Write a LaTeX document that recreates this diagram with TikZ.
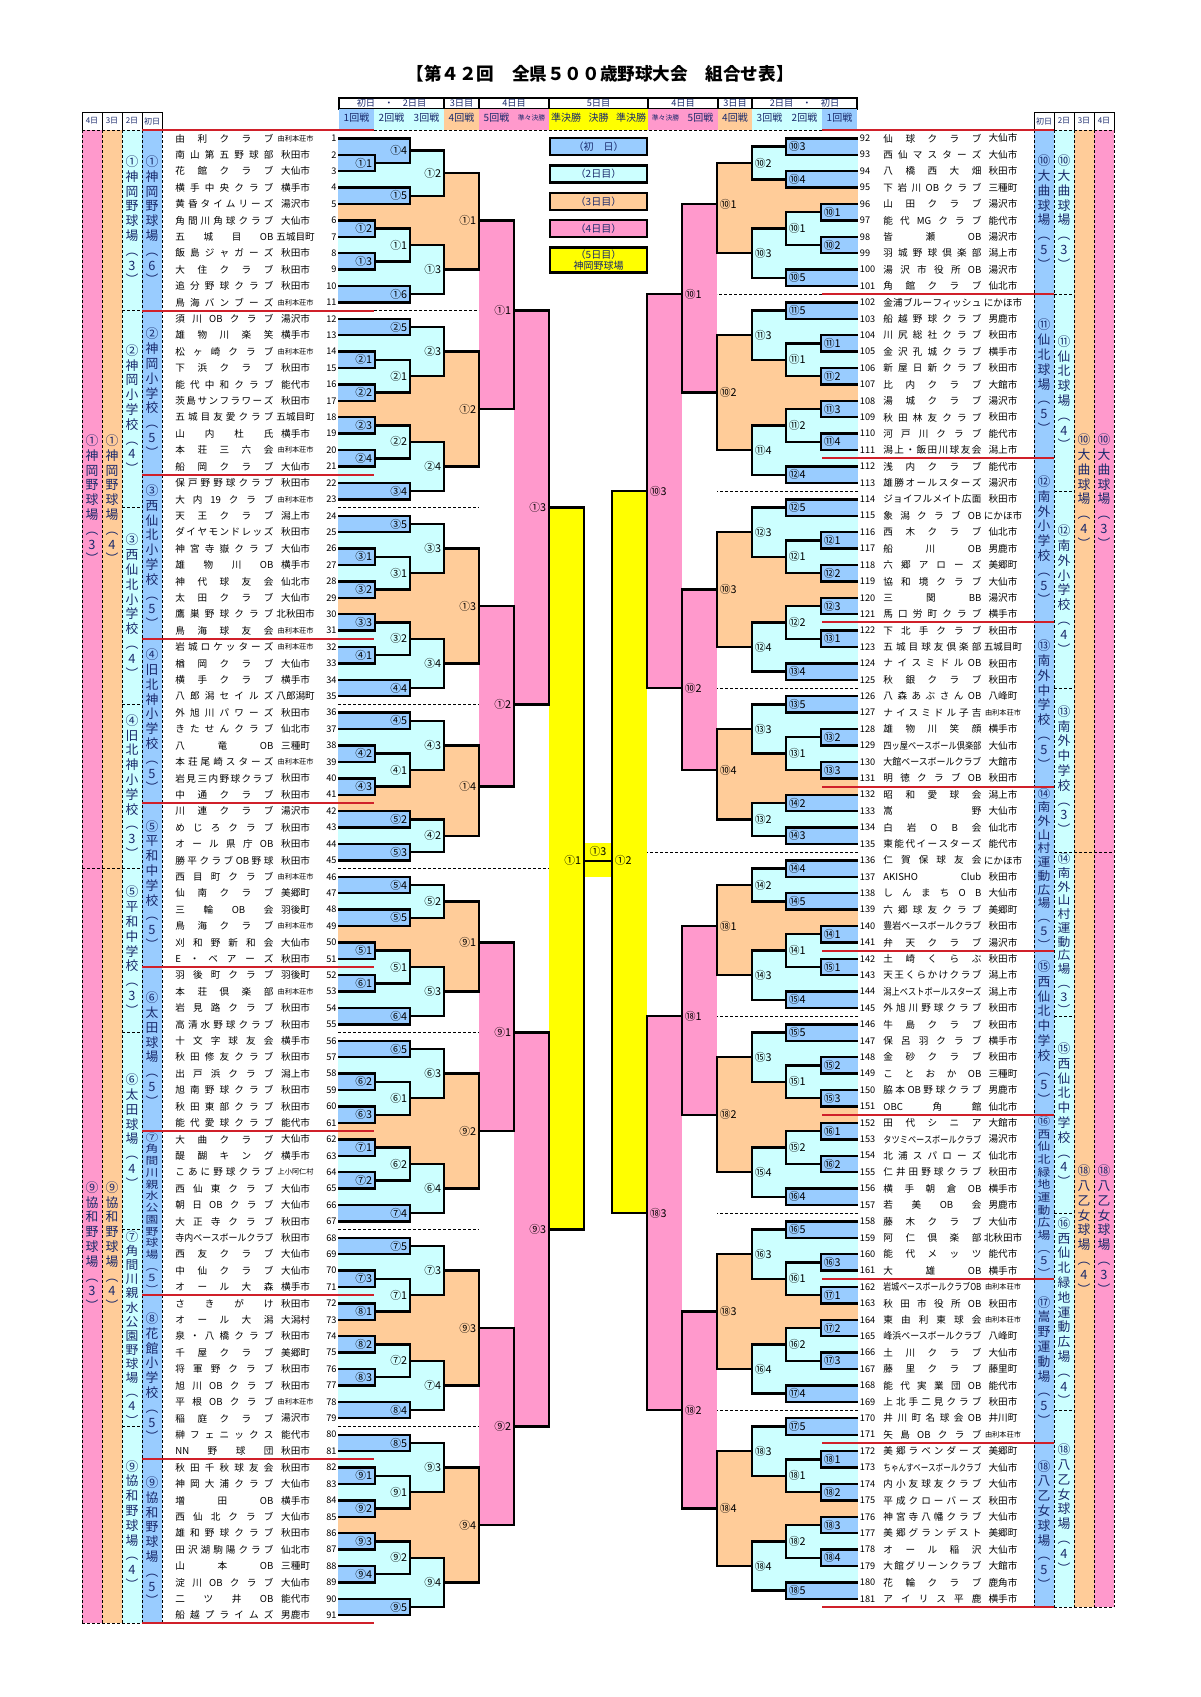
\documentclass[tikz,border=0pt]{standalone}
\usepackage{fontspec}
\setmainfont{Noto Sans CJK JP}
\usepackage{graphicx}
\usetikzlibrary{positioning}
\definecolor{dayone}{HTML}{99CCFF}
\definecolor{daytwo}{HTML}{CCFFFF}
\definecolor{daythree}{HTML}{FFCC99}
\definecolor{dayfour}{HTML}{FF99CC}
\definecolor{dayfive}{HTML}{FFFF00}
\definecolor{blockred}{HTML}{D0202A}
\definecolor{headink}{HTML}{1A2A6C}
\pgfdeclarelayer{fills}
\pgfsetlayers{fills,main}
\pgfmathdeclarefunction{ry}{1}{\pgfmathparse{138.3+(#1-1)*16.41}}

\def\chrendmark{\chrend}
\def\forchars#1#2{\def\chrdo{#1}\chrloop#2\chrend}
\def\chrloop#1{\def\chrarg{#1}\ifx\chrarg\chrendmark\else\chrdo{#1}\expandafter\chrloop\fi}

\newlength\nmw \setlength\nmw{49pt}
\newbox\nmbx
\newif\ifhsfirst
\def\hsch#1{\ifhsfirst\hsfirstfalse\else\hfill\fi#1}
\newcommand\nm[1]{\setbox\nmbx\hbox{#1}%
  \ifdim\wd\nmbx>\nmw\edef\nmht{\the\ht\nmbx}\resizebox{\nmw}{\nmht}{\copy\nmbx}%
  \else\hbox to\nmw{\hsfirsttrue\forchars\hsch{#1}}\fi}
\newcommand\sct[1]{{\fontsize{3.6pt}{4pt}\selectfont#1}}

\newbox\vtbx
\def\vtch#1{\hbox to 8pt{\hss#1\hss}}
\newcommand\vt[2]{\setbox\vtbx\vbox{\baselineskip=7.4pt\lineskiplimit=-20pt\lineskip=0pt\forchars\vtch{#2}}%
  \ifdim\dimexpr\ht\vtbx+\dp\vtbx\relax>#1\relax\resizebox*{\wd\vtbx}{#1}{\copy\vtbx}\else\copy\vtbx\fi}

\def\Lo{338}\def\La{375}\def\Lb{410}\def\Lc{444}\def\Ld{479}\def\Le{514}\def\Lf{549}\def\Lg{584}
\def\lside{east}
\newcount\gno
\newcommand\gm[9]{%
  \pgfmathsetmacro\gya{ry(#5)}\pgfmathsetmacro\gyb{ry(#7)}\pgfmathsetmacro\gyo{ry(#9)}%
  \begin{pgfonlayer}{fills}\fill[#1] (#2,\gya) rectangle (#3,\gyb);\end{pgfonlayer}%
  \draw[bline] (#4,\gya) -| (#3,\gyb) -- (#6,\gyb);%
  \global\advance\gno by 1
  \node[glab,anchor=\lside] (g\the\gno) at (#3-2.5,\gyo) {#8};}
\newcommand\bA[2]{\gm{dayone}{\Lo}{\La}{\Lo}{#2}{\Lo}{#2+1}{#1}{#2+0.5}}
\newcommand\bB[2]{\gm{dayone}{\Lo}{\Lb}{\Lo}{#2}{\Lo}{#2+1}{#1}{#2+0.5}}
\newcommand\cB[2]{\gm{daytwo}{\Lo}{\Lb}{\La}{#2}{\La}{#2+2}{#1}{#2+1}}
\newcommand\cC[3]{\gm{daytwo}{\Lo}{\Lc}{\Lb}{#2}{\Lb}{#3}{#1}{(#2+#3)/2}}
\newcommand\oD[4]{\gm{daythree}{\Lo}{\Ld}{\Lc}{#2}{\Lc}{#3}{#1}{#4}}
\newcommand\pE[4]{\gm{dayfour}{\Ld}{\Le}{\Ld}{#2}{\Ld}{#3}{#1}{#4}}
\newcommand\pF[4]{\gm{dayfour}{\Le}{\Lf}{\Le}{#2}{\Le}{#3}{#1}{#4}}
\newcommand\yG[4]{\gm{dayfive}{\Lf}{\Lg}{\Lf}{#2}{\Lf}{#3}{#1}{#4}}

\newcommand\teamL[3]{\pgfmathsetmacro\tyy{ry(#1)}%
  \node[tnum,anchor=east] (n#1) at (337,\tyy) {#1};%
  \node[tnm] (m#1) at (175,\tyy) {\nm{#2}};%
  \node[tct] (c#1) at (295.6,\tyy) {#3};}
\newcommand\teamR[3]{\pgfmathsetmacro\tyy{ry(#1-91)}%
  \node[tnum,anchor=west] (n#1) at (859.5,\tyy) {#1};%
  \node[tnm] (m#1) at (883,\tyy) {\nm{#2}};%
  \node[tct] (c#1) at (1003,\tyy) {#3};}

\newcommand\vcell[6]{%
  \pgfmathsetmacro\vya{ry(#2)}\pgfmathsetmacro\vyb{ry(#3)}\pgfmathsetmacro\vmaxh{(\vyb-\vya-3)/2}%
  \fill[#4] (#1,\vya) rectangle (#1+20,\vyb);%
  \node[vtx] (#6) at (#1+10,{(\vya+\vyb)/2}) {\vt{\vmaxh pt}{#5}};}
\newcommand\hcellbox[4]{\draw[hcell] (#1,98) rectangle (#2,109);
  \node[htxt] (#4) at ({(#1+#2)/2},103.5) {#3};}

\begin{document}
\begin{tikzpicture}[x=0.5pt,y=-0.5pt,
  bline/.style={line width=1.2pt,line join=miter},
  glab/.style={inner sep=0pt,font=\fontsize{5.4pt}{6pt}\selectfont},
  tnm/.style={inner sep=0pt,anchor=west,font=\fontsize{4.8pt}{5pt}\selectfont},
  tnum/.style={inner sep=0pt,font=\fontsize{4.6pt}{5pt}\selectfont},
  tct/.style={inner sep=0pt,font=\fontsize{4.8pt}{5pt}\selectfont},
  redline/.style={draw=blockred,line width=1pt},
  dashline/.style={line width=0.45pt,dash pattern=on 1.6pt off 0.9pt},
  hcell/.style={draw,line width=1pt,fill=white},
  htxt/.style={inner sep=0pt,text=headink,font=\fontsize{4.6pt}{5pt}\selectfont},
  rtxt/.style={inner sep=0pt,text=headink,font=\fontsize{5pt}{5.5pt}\selectfont},
  stxt/.style={inner sep=0pt,text=headink,font=\fontsize{3.4pt}{4pt}\selectfont},
  vtx/.style={inner sep=0pt,text=headink,font=\fontsize{6.4pt}{7pt}\selectfont},
  vhead/.style={draw,line width=0.5pt,fill=white,minimum width=10pt,minimum height=9pt,inner sep=0pt,text=headink,font=\fontsize{4pt}{4.5pt}\selectfont},
  legbox/.style={draw,line width=1.2pt,minimum width=48.5pt,minimum height=8.5pt,inner sep=0pt,align=center,text=headink,font=\fontsize{5pt}{5.6pt}\selectfont},
  title/.style={inner sep=0pt,font=\bfseries\fontsize{8.8pt}{10pt}\selectfont}]
\useasboundingbox (0,0) rectangle (1200,1697);
\begin{pgfonlayer}{fills}\fill[white] (0,0) rectangle (1200,1697);\end{pgfonlayer}

\node[title] (ttl) at (600,74) {【第４２回　全県５００歳野球大会　組合せ表】};

\hcellbox{339}{444}{初日　・　2日目}{h1}
\hcellbox{444}{479}{3日目}{h2}
\hcellbox{479}{549}{4日目}{h3}
\hcellbox{549}{648}{5日目}{h4}
\hcellbox{648}{718}{4日目}{h5}
\hcellbox{718}{752}{3日目}{h6}
\hcellbox{752}{857}{2日目　・　初日}{h7}
\fill[dayone] (339,109) rectangle (374,130);
\fill[daytwo] (374,109) rectangle (444,130);
\fill[daythree] (444,109) rectangle (479,130);
\fill[dayfour] (479,109) rectangle (549,130);
\fill[dayfive] (549,109) rectangle (648,130);
\fill[dayfour] (648,109) rectangle (718,130);
\fill[daythree] (718,109) rectangle (752,130);
\fill[daytwo] (752,109) rectangle (822,130);
\fill[dayone] (822,109) rectangle (857,130);
\node[rtxt] (r1) at (356.5,118) {1回戦};
\node[rtxt] (r2) at (391.5,118) {2回戦};
\node[rtxt] (r3) at (426.5,118) {3回戦};
\node[rtxt] (r4) at (461.5,118) {4回戦};
\node[rtxt] (r5) at (496.5,118) {5回戦};
\node[stxt] (r6) at (531.5,118) {準々決勝};
\node[rtxt] (r7) at (566,118) {準決勝};
\node[rtxt] (r8) at (598.5,118) {決勝};
\node[rtxt] (r9) at (631,118) {準決勝};
\node[stxt] (r10) at (665.5,118) {準々決勝};
\node[rtxt] (r11) at (700.5,118) {5回戦};
\node[rtxt] (r12) at (735,118) {4回戦};
\node[rtxt] (r13) at (769.5,118) {3回戦};
\node[rtxt] (r14) at (804.5,118) {2回戦};
\node[rtxt] (r15) at (839.5,118) {1回戦};

\node[legbox,fill=dayone] (lg1) at (598.5,146.5) {（初　日）};
\node[legbox,fill=daytwo,below=4pt of lg1] (lg2) {（2日目）};
\node[legbox,fill=daythree,below=4pt of lg2] (lg3) {（3日目）};
\node[legbox,fill=dayfour,below=4pt of lg3] (lg4) {（4日目）};
\node[legbox,fill=dayfive,minimum height=12.5pt,below=4pt of lg4] (lg5) {（5日目）\\神岡野球場};

\node[vhead] (vl4) at (92,121) {4日};
\node[vhead] (vl3) at (112,121) {3日};
\node[vhead] (vl2) at (132,121) {2日};
\node[vhead] (vl1) at (152,121) {初日};
\node[vhead] (vr1) at (1044,121) {初日};
\node[vhead] (vr2) at (1064,121) {2日};
\node[vhead] (vr3) at (1084,121) {3日};
\node[vhead] (vr4) at (1104,121) {4日};

\vcell{142}{0.5}{11.5}{dayone}{①神岡野球場︵6︶}{la1}
\vcell{142}{11.5}{21.5}{dayone}{②神岡小学校︵5︶}{la2}
\vcell{142}{21.5}{31.5}{dayone}{③西仙北小学校︵5︶}{la3}
\vcell{142}{31.5}{41.5}{dayone}{④旧北神小学校︵5︶}{la4}
\vcell{142}{41.5}{51.5}{dayone}{⑤平和中学校︵5︶}{la5}
\vcell{142}{51.5}{61.5}{dayone}{⑥太田球場︵5︶}{la6}
\vcell{142}{61.5}{71.5}{dayone}{⑦角間川親水公園野球場︵5︶}{la7}
\vcell{142}{71.5}{81.5}{dayone}{⑧花館小学校︵5︶}{la8}
\vcell{142}{81.5}{91.5}{dayone}{⑨協和野球場︵5︶}{la9}
\vcell{122}{0.5}{11.5}{daytwo}{①神岡野球場︵3︶}{lb1}
\vcell{122}{11.5}{23.5}{daytwo}{②神岡小学校︵4︶}{lb2}
\vcell{122}{23.5}{35.5}{daytwo}{③西仙北小学校︵4︶}{lb3}
\vcell{122}{35.5}{45.5}{daytwo}{④旧北神小学校︵3︶}{lb4}
\vcell{122}{45.5}{55.5}{daytwo}{⑤平和中学校︵3︶}{lb5}
\vcell{122}{55.5}{67.5}{daytwo}{⑥太田球場︵4︶}{lb6}
\vcell{122}{67.5}{79.5}{daytwo}{⑦角間川親水公園野球場︵4︶}{lb7}
\vcell{122}{79.5}{91.5}{daytwo}{⑨協和野球場︵4︶}{lb9}
\vcell{102}{0.5}{45.5}{daythree}{①神岡野球場︵4︶}{lc1}
\vcell{102}{45.5}{91.5}{daythree}{⑨協和野球場︵4︶}{lc9}
\vcell{82}{0.5}{45.5}{dayfour}{①神岡野球場︵3︶}{ld1}
\vcell{82}{45.5}{91.5}{dayfour}{⑨協和野球場︵3︶}{ld9}

\vcell{1034}{0.5}{10.5}{dayone}{⑩大曲球場︵5︶}{ra10}
\vcell{1034}{10.5}{20.5}{dayone}{⑪仙北球場︵5︶}{ra11}
\vcell{1034}{20.5}{30.5}{dayone}{⑫南外小学校︵5︶}{ra12}
\vcell{1034}{30.5}{40.5}{dayone}{⑬南外中学校︵5︶}{ra13}
\vcell{1034}{40.5}{50.5}{dayone}{⑭南外山村運動広場︵5︶}{ra14}
\vcell{1034}{50.5}{60.5}{dayone}{⑮西仙北中学校︵5︶}{ra15}
\vcell{1034}{60.5}{70.5}{dayone}{⑯西仙北緑地運動広場︵5︶}{ra16}
\vcell{1034}{70.5}{80.5}{dayone}{⑰嵩野運動場︵5︶}{ra17}
\vcell{1034}{80.5}{90.5}{dayone}{⑱八乙女球場︵5︶}{ra18}
\vcell{1054}{0.5}{10.5}{daytwo}{⑩大曲球場︵3︶}{rb10}
\vcell{1054}{10.5}{22.5}{daytwo}{⑪仙北球場︵4︶}{rb11}
\vcell{1054}{22.5}{34.5}{daytwo}{⑫南外小学校︵4︶}{rb12}
\vcell{1054}{34.5}{44.5}{daytwo}{⑬南外中学校︵3︶}{rb13}
\vcell{1054}{44.5}{54.5}{daytwo}{⑭南外山村運動広場︵3︶}{rb14}
\vcell{1054}{54.5}{66.5}{daytwo}{⑮西仙北中学校︵4︶}{rb15}
\vcell{1054}{66.5}{78.5}{daytwo}{⑯西仙北緑地運動広場︵4︶}{rb16}
\vcell{1054}{78.5}{90.5}{daytwo}{⑱八乙女球場︵4︶}{rb18}
\vcell{1074}{0.5}{44.5}{daythree}{⑩大曲球場︵4︶}{rc10}
\vcell{1074}{44.5}{90.5}{daythree}{⑱八乙女球場︵4︶}{rc18}
\vcell{1094}{0.5}{44.5}{dayfour}{⑩大曲球場︵3︶}{rd10}
\vcell{1094}{44.5}{90.5}{dayfour}{⑱八乙女球場︵3︶}{rd18}

\foreach \x in {82,102,122,142,162} \draw[dashline] (\x,130) -- (\x,{ry(91.5)});
\foreach \x in {1034,1054,1074,1094,1114} \draw[dashline] (\x,130) -- (\x,{ry(90.5)});
\foreach \r in {11.5,23.5,35.5,45.5,55.5,67.5,79.5} \draw[dashline] (122,{ry(\r)}) -- (142,{ry(\r)});
\foreach \r in {10.5,22.5,34.5,44.5,54.5,66.5,78.5} \draw[dashline] (1054,{ry(\r)}) -- (1074,{ry(\r)});
\draw[dashline] (82,{ry(45.5)}) -- (122,{ry(45.5)});
\draw[dashline] (1074,{ry(44.5)}) -- (1114,{ry(44.5)});
\draw[dashline] (82,{ry(91.5)}) -- (142,{ry(91.5)});
\draw[dashline] (1054,{ry(90.5)}) -- (1114,{ry(90.5)});
\draw[dashline] (82,130) -- (142,130);
\draw[dashline] (1054,130) -- (1114,130);
\draw[dashline] (374,{ry(0.5)}) -- (822,{ry(0.5)});

\foreach \r in {0.5,11.5,21.5,31.5,41.5,51.5,61.5,71.5,81.5,91.5} \draw[redline] (142,{ry(\r)}) -- (374,{ry(\r)});
\draw[dashline] (374,{ry(11.5)}) -- (479,{ry(11.5)});
\foreach \r in {23.5,35.5,55.5,67.5,79.5} \draw[dashline] (338,{ry(\r)}) -- (479,{ry(\r)});
\draw[dashline] (338,{ry(45.5)}) -- (549,{ry(45.5)});

\yG{①1}{23.5}{67.5}{45.03}
\pF{①3}{11.5}{35.5}{23.5}
\pF{⑨3}{55.5}{79.5}{67.5}
\pE{①1}{6}{17.5}{11.5}
\pE{①2}{29.5}{40.5}{35.5}
\pE{⑨1}{50}{61.5}{55.5}
\pE{⑨2}{73.5}{85.5}{79.5}
\oD{①1}{3.125}{9}{6}
\oD{①2}{14}{21}{17.5}
\oD{①3}{26}{33}{29.5}
\oD{①4}{38}{43.5}{40.5}
\oD{⑨1}{47.5}{53}{50}
\oD{⑨2}{58}{65}{61.5}
\oD{⑨3}{70}{77}{73.5}
\oD{⑨4}{82}{89}{85.5}
\cC{①2}{1.75}{4.5}
\cC{①3}{7.5}{10.5}
\cC{②3}{12.5}{15.5}
\cC{②4}{19.5}{22.5}
\cC{③3}{24.5}{27.5}
\cC{③4}{31.5}{34.5}
\cC{④3}{36.5}{39.5}
\cC{④2}{42.5}{44.5}
\cC{⑤2}{46.5}{48.5}
\cC{⑤3}{51.5}{54.5}
\cC{⑥3}{56.5}{59.5}
\cC{⑥4}{63.5}{66.5}
\cC{⑦3}{68.5}{71.5}
\cC{⑦4}{75.5}{78.5}
\cC{⑨3}{80.5}{83.5}
\cC{⑨4}{87.5}{90.5}
\cB{①1}{6.5} \cB{②1}{14.5} \cB{②2}{18.5} \cB{③1}{26.5} \cB{③2}{30.5} \cB{④1}{38.5} \cB{⑤1}{50.5}
\cB{⑥1}{58.5} \cB{⑥2}{62.5} \cB{⑦1}{70.5} \cB{⑦2}{74.5} \cB{⑨1}{82.5} \cB{⑨2}{86.5}
\gm{dayone}{\Lo}{\Lb}{\Lo}{1}{\La}{2.5}{①4}{1.75}
\bB{①5}{4} \bB{①6}{10} \bB{②5}{12} \bB{③4}{22} \bB{③5}{24} \bB{④4}{34} \bB{④5}{36} \bB{⑤2}{42} \bB{⑤3}{44} \bB{⑤4}{46}
\bB{⑤5}{48} \bB{⑥4}{54} \bB{⑥5}{56} \bB{⑦4}{66} \bB{⑦5}{68} \bB{⑧4}{78} \bB{⑧5}{80} \bB{⑨5}{90}
\bA{①1}{2} \bA{①2}{6} \bA{①3}{8} \bA{②1}{14} \bA{②2}{16} \bA{②3}{18} \bA{②4}{20} \bA{③1}{26} \bA{③2}{28}
\bA{③3}{30} \bA{④1}{32} \bA{④2}{38} \bA{④3}{40} \bA{⑤1}{50} \bA{⑥1}{52} \bA{⑥2}{58} \bA{⑥3}{60} \bA{⑦1}{62}
\bA{⑦2}{64} \bA{⑦3}{70} \bA{⑧1}{72} \bA{⑧2}{74} \bA{⑧3}{76} \bA{⑨1}{82} \bA{⑨2}{84} \bA{⑨3}{86} \bA{⑨4}{88}

\begin{scope}[shift={(1196,0)},xscale=-1]
\def\lside{west}
\foreach \r in {0.5,10.5,20.5,30.5,40.5,50.5,60.5,70.5,80.5,90.5} \draw[redline] (142,{ry(\r)}) -- (374,{ry(\r)});
\draw[dashline] (374,{ry(10.5)}) -- (479,{ry(10.5)});
\foreach \r in {22.5,34.5,54.5,66.5,78.5} \draw[dashline] (338,{ry(\r)}) -- (479,{ry(\r)});
\draw[dashline] (338,{ry(44.5)}) -- (549,{ry(44.5)});
\yG{①2}{22.5}{66.5}{45.03}
\pF{⑩3}{10.5}{34.5}{22.5}
\pF{⑱3}{54.5}{78.5}{66.5}
\pE{⑩1}{5}{16.5}{10.5}
\pE{⑩2}{28.5}{39.5}{34.5}
\pE{⑱1}{49}{60.5}{54.5}
\pE{⑱2}{72.5}{84.5}{78.5}
\oD{⑩1}{2.5}{8}{5}
\oD{⑩2}{13}{20}{16.5}
\oD{⑩3}{25}{32}{28.5}
\oD{⑩4}{37}{42.5}{39.5}
\oD{⑱1}{46.5}{52}{49}
\oD{⑱2}{57}{64}{60.5}
\oD{⑱3}{69}{76}{72.5}
\oD{⑱4}{81}{88}{84.5}
\cC{⑩2}{1.5}{3.5}
\cC{⑩3}{6.5}{9.5}
\cC{⑪3}{11.5}{14.5}
\cC{⑪4}{18.5}{21.5}
\cC{⑫3}{23.5}{26.5}
\cC{⑫4}{30.5}{33.5}
\cC{⑬3}{35.5}{38.5}
\cC{⑬2}{41.5}{43.5}
\cC{⑭2}{45.5}{47.5}
\cC{⑭3}{50.5}{53.5}
\cC{⑮3}{55.5}{58.5}
\cC{⑮4}{62.5}{65.5}
\cC{⑯3}{67.5}{70.5}
\cC{⑯4}{74.5}{77.5}
\cC{⑱3}{79.5}{82.5}
\cC{⑱4}{86.5}{89.5}
\cB{⑩1}{5.5} \cB{⑪1}{13.5} \cB{⑪2}{17.5} \cB{⑫1}{25.5} \cB{⑫2}{29.5} \cB{⑬1}{37.5} \cB{⑭1}{49.5}
\cB{⑮1}{57.5} \cB{⑮2}{61.5} \cB{⑯1}{69.5} \cB{⑯2}{73.5} \cB{⑱1}{81.5} \cB{⑱2}{85.5}
\bB{⑩3}{1} \bB{⑩4}{3} \bB{⑩5}{9} \bB{⑪5}{11} \bB{⑫4}{21} \bB{⑫5}{23} \bB{⑬4}{33} \bB{⑬5}{35} \bB{⑭2}{41} \bB{⑭3}{43}
\bB{⑭4}{45} \bB{⑭5}{47} \bB{⑮4}{53} \bB{⑮5}{55} \bB{⑯4}{65} \bB{⑯5}{67} \bB{⑰4}{77} \bB{⑰5}{79} \bB{⑱5}{89}
\bA{⑩1}{5} \bA{⑩2}{7} \bA{⑪1}{13} \bA{⑪2}{15} \bA{⑪3}{17} \bA{⑪4}{19} \bA{⑫1}{25} \bA{⑫2}{27} \bA{⑫3}{29}
\bA{⑬1}{31} \bA{⑬2}{37} \bA{⑬3}{39} \bA{⑭1}{49} \bA{⑮1}{51} \bA{⑮2}{57} \bA{⑮3}{59} \bA{⑯1}{61} \bA{⑯2}{63}
\bA{⑯3}{69} \bA{⑰1}{71} \bA{⑰2}{73} \bA{⑰3}{75} \bA{⑱1}{81} \bA{⑱2}{83} \bA{⑱3}{85} \bA{⑱4}{87}
\end{scope}

\begin{pgfonlayer}{fills}\fill[dayfive] (585,843) rectangle (612,877);\end{pgfonlayer}
\draw[bline] (584,{ry(45.03)}) -- (612,{ry(45.03)});
\node[glab] (fin) at (598,851.5) {①3};

\teamL{1}{由利クラブ}{\sct{由利本荘市}}
\teamL{2}{南山第五野球部}{秋田市}
\teamL{3}{花館クラブ}{大仙市}
\teamL{4}{横手中央クラブ}{横手市}
\teamL{5}{黄昏タイムリーズ}{湯沢市}
\teamL{6}{角間川角球クラブ}{大仙市}
\teamL{7}{五城目{OB}}{五城目町}
\teamL{8}{飯島ジャガーズ}{秋田市}
\teamL{9}{大住クラブ}{秋田市}
\teamL{10}{追分野球クラブ}{秋田市}
\teamL{11}{鳥海バンブーズ}{\sct{由利本荘市}}
\teamL{12}{須川{OB}クラブ}{湯沢市}
\teamL{13}{雄物川楽笑}{横手市}
\teamL{14}{松ヶ崎クラブ}{\sct{由利本荘市}}
\teamL{15}{下浜クラブ}{秋田市}
\teamL{16}{能代中和クラブ}{能代市}
\teamL{17}{茨島サンフラワーズ}{秋田市}
\teamL{18}{五城目友愛クラブ}{五城目町}
\teamL{19}{山内杜氏}{横手市}
\teamL{20}{本荘三六会}{\sct{由利本荘市}}
\teamL{21}{船岡クラブ}{大仙市}
\teamL{22}{保戸野野球クラブ}{秋田市}
\teamL{23}{大内{19}クラブ}{\sct{由利本荘市}}
\teamL{24}{天王クラブ}{潟上市}
\teamL{25}{ダイヤモンドレッズ}{秋田市}
\teamL{26}{神宮寺嶽クラブ}{大仙市}
\teamL{27}{雄物川{OB}}{横手市}
\teamL{28}{神代球友会}{仙北市}
\teamL{29}{太田クラブ}{大仙市}
\teamL{30}{鷹巣野球クラブ}{北秋田市}
\teamL{31}{鳥海球友会}{\sct{由利本荘市}}
\teamL{32}{岩城ロケッターズ}{\sct{由利本荘市}}
\teamL{33}{楢岡クラブ}{大仙市}
\teamL{34}{横手クラブ}{横手市}
\teamL{35}{八郎潟セイルズ}{八郎潟町}
\teamL{36}{外旭川パワーズ}{秋田市}
\teamL{37}{きたせんクラブ}{仙北市}
\teamL{38}{八竜{OB}}{三種町}
\teamL{39}{本荘尾崎スターズ}{\sct{由利本荘市}}
\teamL{40}{岩見三内野球クラブ}{秋田市}
\teamL{41}{中通クラブ}{秋田市}
\teamL{42}{川連クラブ}{湯沢市}
\teamL{43}{めじろクラブ}{秋田市}
\teamL{44}{オール県庁{OB}}{秋田市}
\teamL{45}{勝平クラブ{OB}野球}{秋田市}
\teamL{46}{西目町クラブ}{\sct{由利本荘市}}
\teamL{47}{仙南クラブ}{美郷町}
\teamL{48}{三輪{OB}会}{羽後町}
\teamL{49}{鳥海クラブ}{\sct{由利本荘市}}
\teamL{50}{刈和野新和会}{大仙市}
\teamL{51}{E・ベアーズ}{秋田市}
\teamL{52}{羽後町クラブ}{羽後町}
\teamL{53}{本荘倶楽部}{\sct{由利本荘市}}
\teamL{54}{岩見路クラブ}{秋田市}
\teamL{55}{高清水野球クラブ}{秋田市}
\teamL{56}{十文字球友会}{横手市}
\teamL{57}{秋田修友クラブ}{秋田市}
\teamL{58}{出戸浜クラブ}{潟上市}
\teamL{59}{旭南野球クラブ}{秋田市}
\teamL{60}{秋田東部クラブ}{秋田市}
\teamL{61}{能代愛球クラブ}{能代市}
\teamL{62}{大曲クラブ}{大仙市}
\teamL{63}{醍醐キング}{横手市}
\teamL{64}{こあに野球クラブ}{\sct{上小阿仁村}}
\teamL{65}{西仙東クラブ}{大仙市}
\teamL{66}{朝日{OB}クラブ}{大仙市}
\teamL{67}{大正寺クラブ}{秋田市}
\teamL{68}{寺内ベースボールクラブ}{秋田市}
\teamL{69}{西友クラブ}{大仙市}
\teamL{70}{中仙クラブ}{大仙市}
\teamL{71}{オール大森}{横手市}
\teamL{72}{さきがけ}{秋田市}
\teamL{73}{オール大潟}{大潟村}
\teamL{74}{泉・八橋クラブ}{秋田市}
\teamL{75}{千屋クラブ}{美郷町}
\teamL{76}{将軍野クラブ}{秋田市}
\teamL{77}{旭川{OB}クラブ}{秋田市}
\teamL{78}{平根{OB}クラブ}{\sct{由利本荘市}}
\teamL{79}{稲庭クラブ}{湯沢市}
\teamL{80}{榊フェニックス}{能代市}
\teamL{81}{{NN}野球団}{秋田市}
\teamL{82}{秋田千秋球友会}{秋田市}
\teamL{83}{神岡大浦クラブ}{大仙市}
\teamL{84}{増田{OB}}{横手市}
\teamL{85}{西仙北クラブ}{大仙市}
\teamL{86}{雄和野球クラブ}{秋田市}
\teamL{87}{田沢湖駒陽クラブ}{仙北市}
\teamL{88}{山本{OB}}{三種町}
\teamL{89}{淀川{OB}クラブ}{大仙市}
\teamL{90}{二ツ井{OB}}{能代市}
\teamL{91}{船越プライムズ}{男鹿市}

\teamR{92}{仙球クラブ}{大仙市}
\teamR{93}{西仙マスターズ}{大仙市}
\teamR{94}{八橋西大畑}{秋田市}
\teamR{95}{下岩川{OB}クラブ}{三種町}
\teamR{96}{山田クラブ}{湯沢市}
\teamR{97}{能代{MG}クラブ}{能代市}
\teamR{98}{皆瀬{OB}}{湯沢市}
\teamR{99}{羽城野球倶楽部}{潟上市}
\teamR{100}{湯沢市役所{OB}}{湯沢市}
\teamR{101}{角館クラブ}{仙北市}
\teamR{102}{金浦ブルーフィッシュ}{にかほ市}
\teamR{103}{船越野球クラブ}{男鹿市}
\teamR{104}{川尻総社クラブ}{秋田市}
\teamR{105}{金沢孔城クラブ}{横手市}
\teamR{106}{新屋日新クラブ}{秋田市}
\teamR{107}{比内クラブ}{大館市}
\teamR{108}{湯城クラブ}{湯沢市}
\teamR{109}{秋田林友クラブ}{秋田市}
\teamR{110}{河戸川クラブ}{能代市}
\teamR{111}{潟上・飯田川球友会}{潟上市}
\teamR{112}{浅内クラブ}{能代市}
\teamR{113}{雄勝オールスターズ}{湯沢市}
\teamR{114}{ジョイフルメイト広面}{秋田市}
\teamR{115}{象潟クラブ{OB}}{にかほ市}
\teamR{116}{西木クラブ}{仙北市}
\teamR{117}{船川{OB}}{男鹿市}
\teamR{118}{六郷アローズ}{美郷町}
\teamR{119}{協和境クラブ}{大仙市}
\teamR{120}{三関{BB}}{湯沢市}
\teamR{121}{馬口労町クラブ}{横手市}
\teamR{122}{下北手クラブ}{秋田市}
\teamR{123}{五城目球友倶楽部}{五城目町}
\teamR{124}{ナイスミドル{OB}}{秋田市}
\teamR{125}{秋銀クラブ}{秋田市}
\teamR{126}{八森あぶさん{OB}}{八峰町}
\teamR{127}{ナイスミドル子吉}{\sct{由利本荘市}}
\teamR{128}{雄物川笑顔}{横手市}
\teamR{129}{四ッ屋ベースボール倶楽部}{大仙市}
\teamR{130}{大館ベースボールクラブ}{大館市}
\teamR{131}{明徳クラブ{OB}}{秋田市}
\teamR{132}{昭和愛球会}{潟上市}
\teamR{133}{嵩野}{大仙市}
\teamR{134}{白岩OB会}{仙北市}
\teamR{135}{東能代イースターズ}{能代市}
\teamR{136}{仁賀保球友会}{にかほ市}
\teamR{137}{{AKISHO}{Club}}{秋田市}
\teamR{138}{しんまちOB}{大仙市}
\teamR{139}{六郷球友クラブ}{美郷町}
\teamR{140}{豊岩ベースボールクラブ}{秋田市}
\teamR{141}{弁天クラブ}{湯沢市}
\teamR{142}{土崎くらぶ}{秋田市}
\teamR{143}{天王くらかけクラブ}{潟上市}
\teamR{144}{潟上ベストボールスターズ}{潟上市}
\teamR{145}{外旭川野球クラブ}{秋田市}
\teamR{146}{牛島クラブ}{秋田市}
\teamR{147}{保呂羽クラブ}{横手市}
\teamR{148}{金砂クラブ}{秋田市}
\teamR{149}{ことおか{OB}}{三種町}
\teamR{150}{脇本{OB}野球クラブ}{男鹿市}
\teamR{151}{{OBC}角館}{仙北市}
\teamR{152}{田代シニア}{大館市}
\teamR{153}{タツミベースボールクラブ}{湯沢市}
\teamR{154}{北浦スパローズ}{仙北市}
\teamR{155}{仁井田野球クラブ}{秋田市}
\teamR{156}{横手朝倉{OB}}{横手市}
\teamR{157}{若美{OB}会}{男鹿市}
\teamR{158}{藤木クラブ}{大仙市}
\teamR{159}{阿仁倶楽部}{北秋田市}
\teamR{160}{能代メッツ}{能代市}
\teamR{161}{大雄{OB}}{横手市}
\teamR{162}{岩城ベースボールクラブ{OB}}{\sct{由利本荘市}}
\teamR{163}{秋田市役所{OB}}{秋田市}
\teamR{164}{東由利東球会}{\sct{由利本荘市}}
\teamR{165}{峰浜ベースボールクラブ}{八峰町}
\teamR{166}{土川クラブ}{大仙市}
\teamR{167}{藤里クラブ}{藤里町}
\teamR{168}{能代実業団{OB}}{能代市}
\teamR{169}{上北手二見クラブ}{秋田市}
\teamR{170}{井川町名球会{OB}}{井川町}
\teamR{171}{矢島{OB}クラブ}{\sct{由利本荘市}}
\teamR{172}{美郷ラベンダーズ}{美郷町}
\teamR{173}{ちゃんすベースボールクラブ}{大仙市}
\teamR{174}{内小友球友クラブ}{大仙市}
\teamR{175}{平成クローバーズ}{秋田市}
\teamR{176}{神宮寺八幡クラブ}{大仙市}
\teamR{177}{美郷グランデスト}{美郷町}
\teamR{178}{オール稲沢}{大仙市}
\teamR{179}{大館グリーンクラブ}{大館市}
\teamR{180}{花輪クラブ}{鹿角市}
\teamR{181}{アイリス平鹿}{横手市}
\end{tikzpicture}
\end{document}
